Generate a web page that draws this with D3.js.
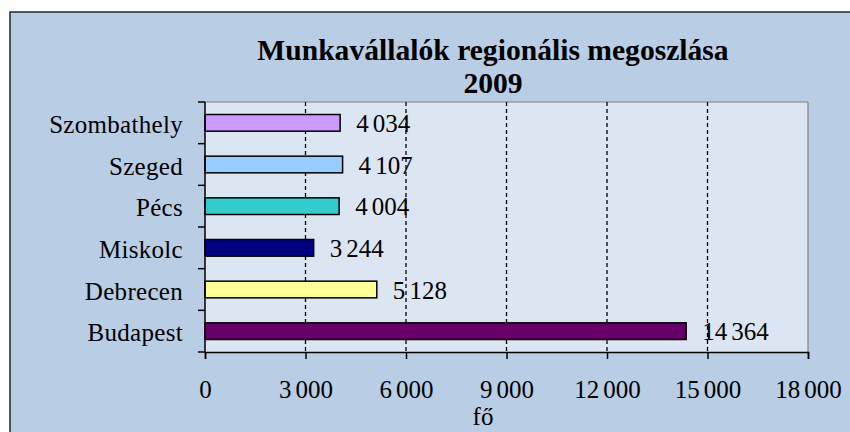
<!DOCTYPE html>
<html><head><meta charset="utf-8">
<script src="https://cdn.jsdelivr.net/npm/d3@7/dist/d3.min.js"></script>
<style>
html,body{margin:0;padding:0;background:#fff;}
text{font-family:"Liberation Serif","Times New Roman",serif;}
</style></head>
<body><svg id="c" width="850" height="432"></svg>
<script>
const categories = ["Szombathely","Szeged","Pécs","Miskolc","Debrecen","Budapest"];
const values = [4034,4107,4004,3244,5128,14364];
const colors = ["#CC99FF","#99CCFF","#33CCCC","#000080","#FFFF99","#660066"];
const xTicks = [0,3000,6000,9000,12000,15000,18000];
const titleLines = ["Munkavállalók regionális megoszlása","2009"];
const axisTitle = "fő";

const svg = d3.select("#c");
const fmt = d3.formatLocale({decimal:",",thousands:"\u2006",grouping:[3],currency:["",""]}).format(",d");

svg.append("rect").attr("x",10).attr("y",12).attr("width",850).attr("height",430)
  .attr("fill","#B9CDE5").attr("stroke","#1a1a1a").attr("stroke-width",1.4);

const L=205,R=808,T=102,B=352;
const x = d3.scaleLinear().domain([0,18000]).range([L,R]);
const y = d3.scaleBand().domain(categories).range([T,B]).paddingInner(0.6).paddingOuter(0.3);

svg.append("rect").attr("x",L).attr("y",T).attr("width",R-L).attr("height",B-T)
  .attr("fill","#DCE6F2");
svg.append("line").attr("x1",L).attr("x2",R).attr("y1",T).attr("y2",T).attr("stroke","#808080").attr("stroke-width",1.2);
svg.append("line").attr("x1",R).attr("x2",R).attr("y1",T).attr("y2",B).attr("stroke","#808080").attr("stroke-width",1.2);

// gridlines
svg.append("g").selectAll("line").data(xTicks.filter(d=>d>0&&d<18000)).join("line")
  .attr("x1",d=>x(d)).attr("x2",d=>x(d)).attr("y1",T).attr("y2",B)
  .attr("stroke","#000").attr("stroke-width",1.3).attr("stroke-dasharray","4,3");

// bars
svg.append("g").selectAll("rect").data(categories).join("rect")
  .attr("x",x(0)).attr("y",d=>y(d)).attr("width",(d,i)=>x(values[i])-x(0)).attr("height",y.bandwidth())
  .attr("fill",(d,i)=>colors[i]).attr("stroke","#000").attr("stroke-width",1.5);

// value labels
svg.append("g").selectAll("text").data(categories).join("text")
  .attr("x",(d,i)=>x(values[i])+16).attr("y",d=>y(d)+y.bandwidth()/2+9)
  .attr("font-size",25).attr("fill","#000").text((d,i)=>fmt(values[i]));

// x axis
const xAxis = d3.axisBottom(x).tickValues(xTicks).tickSize(7).tickPadding(21).tickFormat(fmt);
const gx = svg.append("g").attr("transform",`translate(0,${B})`).call(xAxis);
gx.select(".domain").attr("stroke","#000").attr("stroke-width",1.5);
gx.selectAll(".tick line").attr("stroke","#000").attr("stroke-width",1.5);
gx.selectAll(".tick text").attr("font-size",25).attr("font-family","Liberation Serif").attr("fill","#000");

// y axis
const step = y.step();
const bounds = categories.map(c=>y(c)-(step-y.bandwidth())/2).concat([B]);
svg.append("line").attr("x1",L).attr("x2",L).attr("y1",T).attr("y2",B).attr("stroke","#000").attr("stroke-width",1.5);
svg.append("g").selectAll("line").data(bounds).join("line")
  .attr("x1",L-7).attr("x2",L).attr("y1",d=>d).attr("y2",d=>d).attr("stroke","#000").attr("stroke-width",1.5);
svg.append("g").selectAll("text").data(categories).join("text")
  .attr("x",183).attr("y",d=>y(d)+y.bandwidth()/2+10).attr("text-anchor","end")
  .attr("font-size",25).attr("letter-spacing",0.3).attr("fill","#000").text(d=>d);

// titles
svg.append("text").attr("x",493).attr("y",59.5).attr("text-anchor","middle").attr("font-size",29.6).attr("font-weight","bold").text(titleLines[0]);
svg.append("text").attr("x",493).attr("y",92.5).attr("text-anchor","middle").attr("font-size",29.6).attr("font-weight","bold").text(titleLines[1]);
svg.append("text").attr("x",483).attr("y",425).attr("text-anchor","middle").attr("font-size",25).text(axisTitle);
</script></body></html>
